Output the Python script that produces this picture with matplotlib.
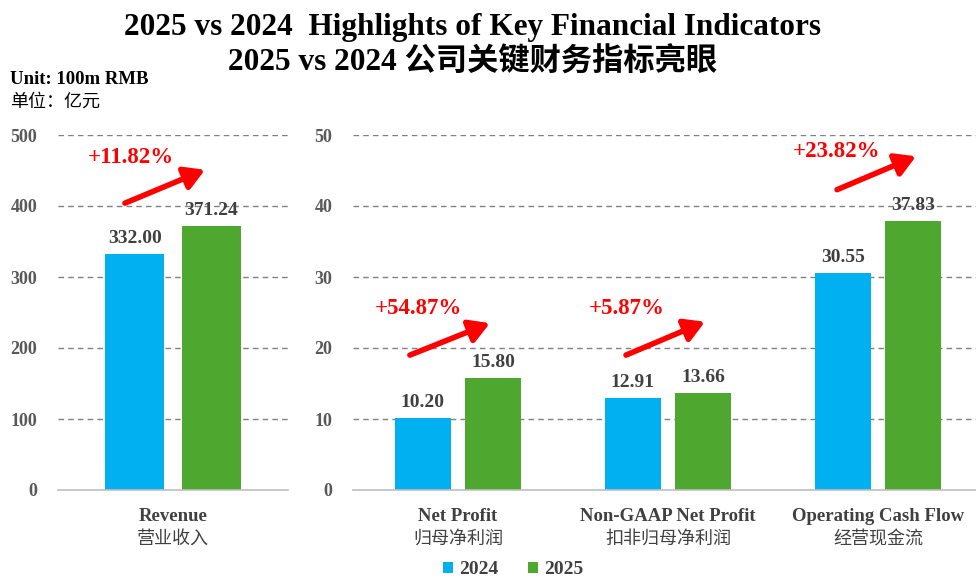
import matplotlib
matplotlib.use("Agg")
import matplotlib.pyplot as plt

plt.rcParams['font.family'] = ['Liberation Serif', 'Noto Sans CJK SC']

# Data
left_cats_en = ["Revenue"]
left_cats_zh = ["营业收入"]
left_2024 = [332.00]
left_2025 = [371.24]
left_growth = ["+11.82%"]

right_cats_en = ["Net Profit", "Non-GAAP Net Profit", "Operating Cash Flow"]
right_cats_zh = ["归母净利润", "扣非归母净利润", "经营现金流"]
right_2024 = [10.20, 12.91, 30.55]
right_2025 = [15.80, 13.66, 37.83]
right_growth = ["+54.87%", "+5.87%", "+23.82%"]

left_ticks = [0, 100, 200, 300, 400, 500]
right_ticks = [0, 10, 20, 30, 40, 50]

C24 = "#00B0F0"
C25 = "#4EA72E"
GRID = "#808080"
TICKC = "#595959"
LABC = "#404040"
RED = "#FF0000"

W, H = 976, 582
fig = plt.figure(figsize=(W / 100, H / 100), dpi=100)

def pax(x0, y0, x1, y1):
    return fig.add_axes([x0 / W, 1 - y1 / H, (x1 - x0) / W, (y1 - y0) / H])

axL = pax(58, 135, 288, 490)
axR = pax(353, 135, 983, 490)

def style(ax, ticks, n):
    ax.set_ylim(ticks[0], ticks[-1])
    ax.set_xlim(-0.5, n - 0.5)
    ax.set_yticks(ticks)
    ax.set_yticklabels([str(t) for t in ticks], fontsize=13, fontweight='bold', color=TICKC)
    ax.tick_params(axis='y', length=0, pad=15)
    ax.tick_params(axis='x', length=0)
    for s in ['top', 'right', 'left']:
        ax.spines[s].set_visible(False)
    ax.spines['bottom'].set_color("#BFBFBF")
    ax.spines['bottom'].set_linewidth(1.2)
    for t in ticks[1:]:
        ax.axhline(t, color=GRID, lw=1, ls=(0, (4, 3)), zorder=0)
    ax.set_xticks([])

def bars(ax, v24, v25, width, off, fmt="{:.2f}"):
    xs = list(range(len(v24)))
    b1 = ax.bar([x - off for x in xs], v24, width, color=C24, zorder=2)
    b2 = ax.bar([x + off for x in xs], v25, width, color=C25, zorder=2)
    for bs, vs in ((b1, v24), (b2, v25)):
        for b, v in zip(bs, vs):
            ax.annotate(fmt.format(v), (b.get_x() + b.get_width() / 2, v),
                        xytext=(0, 5), textcoords='offset points', ha='center', va='bottom',
                        fontsize=14, fontweight='bold', color=LABC, zorder=3)
    return b1, b2

style(axL, left_ticks, 1)
style(axR, right_ticks, 3)
b1, b2 = bars(axL, left_2024, left_2025, 0.26, 0.167)
bars(axR, right_2024, right_2025, 0.27, 0.167)

def cat_labels(ax, en, zh):
    for i, (e, z) in enumerate(zip(en, zh)):
        ax.text(i, -0.05, e, transform=ax.get_xaxis_transform(), ha='center', va='top',
                fontsize=13.5, fontweight='bold', color=LABC)
        ax.text(i, -0.113, z, transform=ax.get_xaxis_transform(), ha='center', va='top',
                fontsize=13, color=LABC, family=['Noto Sans CJK SC'])

cat_labels(axL, left_cats_en, left_cats_zh)
cat_labels(axR, right_cats_en, right_cats_zh)

def growth(ax, text, tx, ty, x0, y0, x1, y1):
    ax.text(tx, ty, text, ha='left', va='center', fontsize=16.5, fontweight='bold', color=RED)
    ax.annotate("", xy=(x1, y1), xytext=(x0, y0),
                arrowprops=dict(arrowstyle='-|>,head_length=0.6,head_width=0.35', lw=4,
                                color=RED, mutation_scale=20, shrinkA=0, shrinkB=0))

growth(axL, left_growth[0], -0.37, 469, -0.209, 404, 0.139, 451)
growth(axR, right_growth[0], -0.395, 25.6, -0.229, 19.0, 0.152, 23.5)
growth(axR, right_growth[1], 0.624, 25.6, 0.800, 19.0, 1.176, 23.7)
growth(axR, right_growth[2], 1.595, 47.7, 1.805, 42.3, 2.181, 47.0)

fig.text(0.484, 1 - 27 / H, "2025 vs 2024  Highlights of Key Financial Indicators",
         ha='center', va='center', fontsize=22.5, fontweight='bold', color='black')
fig.text(0.484, 1 - 63 / H, "2025 vs 2024 公司关键财务指标亮眼",
         ha='center', va='center', fontsize=22.5, fontweight='bold', color='black')
fig.text(10 / W, 1 - 79 / H, "Unit: 100m RMB", ha='left', va='center',
         fontsize=13.5, fontweight='bold', color='black')
fig.text(10 / W, 1 - 102 / H, "单位：亿元", ha='left', va='center',
         fontsize=13, color='black', family=['Noto Sans CJK SC'])

fig.legend([b1, b2], ["2024", "2025"], loc='center', bbox_to_anchor=(513 / W, 1 - 570 / H),
           ncol=2, frameon=False, handlelength=0.55, handleheight=0.55, handletextpad=0.3,
           columnspacing=1.5, prop={'size': 14, 'weight': 'bold'}, labelcolor=LABC,
           borderpad=0)

fig.savefig("out.png", dpi=100)
